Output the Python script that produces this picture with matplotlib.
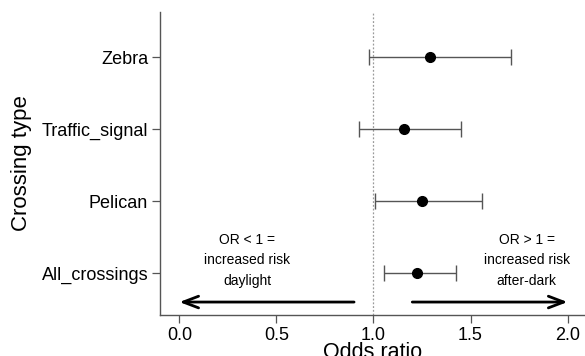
import matplotlib
matplotlib.use("Agg")
import matplotlib.pyplot as plt

plt.rcParams["font.family"] = ["Liberation Sans", "DejaVu Sans"]

crossings = ["All_crossings", "Pelican", "Traffic_signal", "Zebra"]
odds_ratio = [1.223, 1.252, 1.158, 1.291]
ci_lower = [1.055, 1.007, 0.925, 0.976]
ci_upper = [1.427, 1.559, 1.453, 1.709]

ypos = list(range(1, len(crossings) + 1))
err_lo = [o - lo for o, lo in zip(odds_ratio, ci_lower)]
err_hi = [hi - o for o, hi in zip(odds_ratio, ci_upper)]

fig = plt.figure(figsize=(5.85, 3.56), dpi=100)
ax = fig.add_axes([160 / 585, 41 / 356, 1 - 160 / 585, 303 / 356])

ax.axvline(1.0, color="#9a9a9a", linestyle=(0, (1.5, 1.5)), linewidth=0.9, zorder=1)
ax.errorbar(
    odds_ratio, ypos, xerr=[err_lo, err_hi], fmt="o", color="black",
    markersize=7, ecolor="#555555", elinewidth=1.0, capsize=6, capthick=1.0,
    zorder=3,
)

# direction arrows
arrow = dict(arrowstyle="->,head_length=1.1,head_width=0.42", color="black",
             lw=2.0, shrinkA=0, shrinkB=0)
ax.annotate("", xy=(0.0, 0.6), xytext=(0.9, 0.6), arrowprops=arrow)
ax.annotate("", xy=(2.0, 0.6), xytext=(1.2, 0.6), arrowprops=arrow)
ax.text(0.35, 1.18, "OR < 1 =\nincreased risk\ndaylight", ha="center",
        va="center", fontsize=10, linespacing=1.6)
ax.text(1.79, 1.18, "OR > 1 =\nincreased risk\nafter-dark", ha="center",
        va="center", fontsize=10, linespacing=1.6)

ax.set_xlim(-0.1, 2.09)
ax.set_ylim(0.42, 4.63)
ax.set_yticks(ypos)
ax.set_yticklabels(crossings)
ax.set_xticks([0.0, 0.5, 1.0, 1.5, 2.0])
ax.set_xticklabels(["0.0", "0.5", "1.0", "1.5", "2.0"])
ax.tick_params(labelsize=13, color="#555555", length=5.5, width=0.9, pad=3)
for side in ["top", "right"]:
    ax.spines[side].set_visible(False)
for side in ["left", "bottom"]:
    ax.spines[side].set_color("#555555")
    ax.spines[side].set_linewidth(1.0)

ax.set_xlabel("Odds ratio", fontsize=15.5, labelpad=-1)
ax.set_ylabel("Crossing type", fontsize=16, labelpad=7)

fig.savefig("out.png", dpi=100)
